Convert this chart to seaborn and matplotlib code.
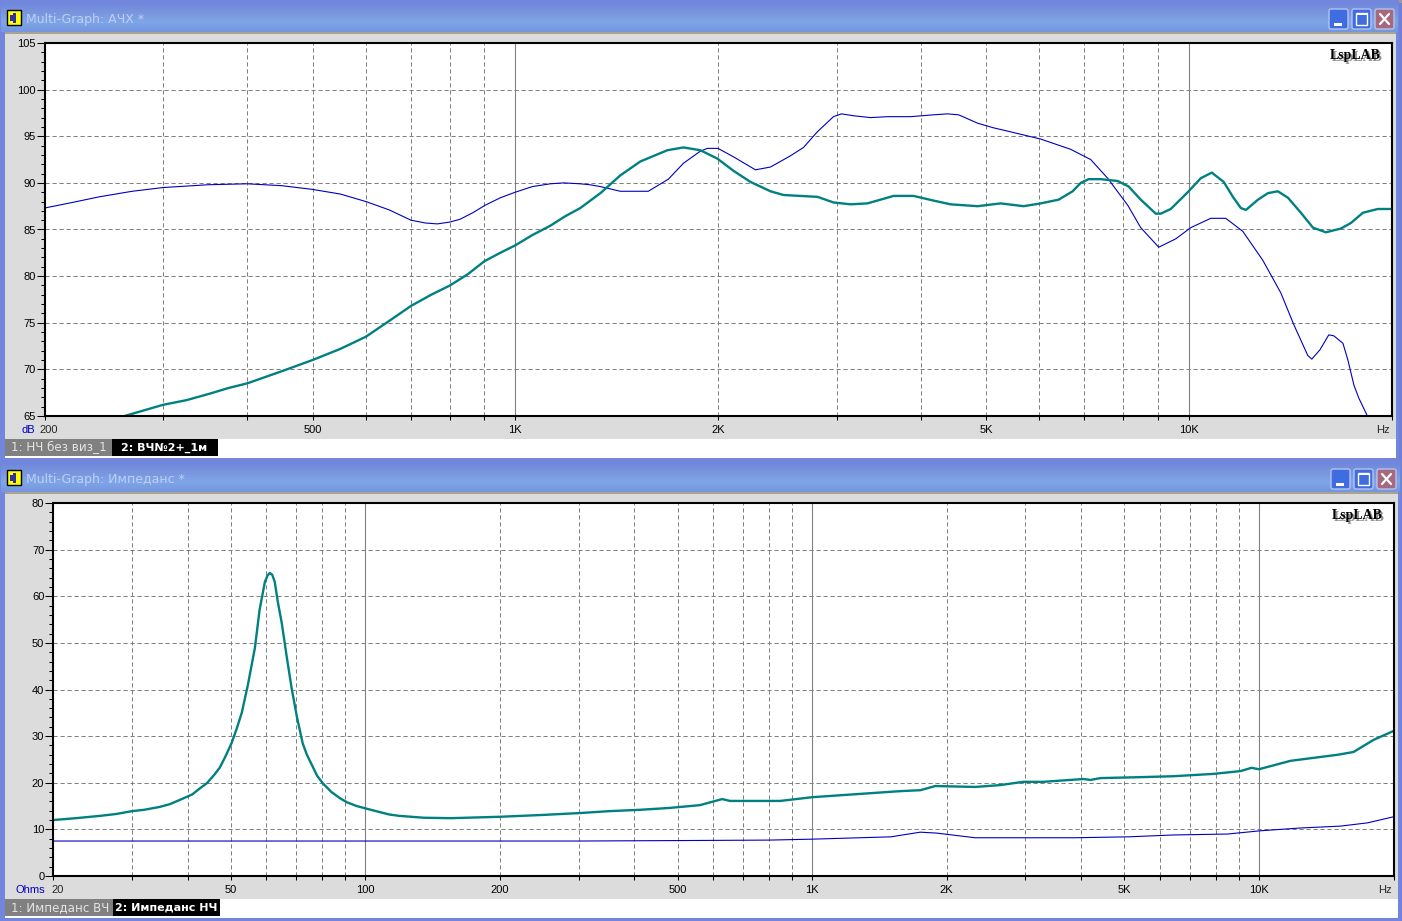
import numpy as np
import pandas as pd
import matplotlib
matplotlib.use("Agg")
import matplotlib.pyplot as plt
from matplotlib.patches import Rectangle, FancyBboxPatch
import seaborn as sns

# frequency response, window 1
fr_blue_hz = [200, 220, 241, 270, 300, 350, 400, 450, 500, 550, 600, 650, 700, 735, 766, 800, 828, 865, 902, 950,
              1000, 1060, 1127, 1180, 1249, 1290, 1338, 1432, 1576,
              1688, 1777, 1883, 1929, 2000, 2108, 2273, 2393, 2476, 2562, 2679, 2811, 2968, 3051,
              3178, 3369, 3571, 3863, 4179, 4384, 4552, 4859, 5132, 5347, 6027, 6678, 7152, 7578,
              8117, 8486, 9025, 9566, 10070, 10780, 11350, 12030, 12880, 13700, 14320, 15020,
              15230, 15660, 16140, 16420, 16940, 17230, 17590, 17890, 18390, 18800]
fr_blue_db = [87.3, 87.9, 88.5, 89.1, 89.5, 89.8, 89.9, 89.7, 89.3, 88.8, 88.0, 87.1, 86.0, 85.7, 85.6, 85.8, 86.1, 86.8, 87.6, 88.4,
              89.0, 89.6, 89.9, 90.0, 89.9, 89.8, 89.6, 89.1, 89.1,
              90.4, 92.1, 93.4, 93.7, 93.7, 92.8, 91.4, 91.7, 92.3, 92.9, 93.8, 95.5, 97.1, 97.4,
              97.2, 97.0, 97.1, 97.1, 97.3, 97.4, 97.3, 96.4, 95.9, 95.6, 94.7, 93.6, 92.5, 90.5,
              87.6, 85.2, 83.1, 84.0, 85.2, 86.2, 86.2, 84.8, 81.7, 78.2, 74.8, 71.5,
              71.1, 72.1, 73.7, 73.6, 72.8, 71.0, 68.3, 66.9, 65.1, 63.5]

fr_green_hz = [250, 263, 300, 325, 352, 375, 400, 450, 500, 550, 600, 650, 700, 750, 800, 850, 900, 950, 1000, 1060,
               1127, 1185, 1249, 1338, 1432, 1534,
               1682, 1777, 1883, 1996, 2108, 2235, 2393, 2502, 2811, 2968, 3146, 3334, 3645, 3904,
               4179, 4429, 4859, 5257, 5686, 6027, 6410, 6724, 6912, 7100, 7400, 7845, 8145, 8486,
               8933, 9087, 9404, 9966, 10420, 10820, 11270, 11630, 11950, 12160, 12670, 13110,
               13560, 14040, 14670, 15290, 15980, 16820, 17410, 18140, 19090, 20000]
fr_green_db = [64.6, 65.0, 66.2, 66.7, 67.4, 68.0, 68.5, 69.8, 71.0, 72.2, 73.5, 75.2, 76.8, 78.0, 79.0, 80.2, 81.6, 82.5, 83.3, 84.4,
               85.4, 86.4, 87.3, 88.9, 90.8, 92.3,
               93.5, 93.8, 93.5, 92.6, 91.3, 90.1, 89.1, 88.7, 88.5, 87.9, 87.7, 87.8, 88.6, 88.6,
               88.1, 87.7, 87.5, 87.8, 87.5, 87.8, 88.2, 89.1, 90.0, 90.4, 90.4, 90.2, 89.6, 88.2,
               86.7, 86.7, 87.2, 89.0, 90.5, 91.1, 90.1, 88.5, 87.3, 87.1, 88.2, 88.9,
               89.1, 88.4, 86.8, 85.2, 84.7, 85.1, 85.7, 86.8, 87.2, 87.2]

# impedance, window 2
z_green_hz = [20, 22.5, 25.5, 27.7, 30, 32, 34.6, 36.5, 38.4, 41, 42.5, 44.2, 46, 47.2, 48.5, 50.2, 51.5, 52.9, 54.6, 56.6,
              58.0, 59.6, 60.4, 61.1, 61.9, 62.7, 63.7,
              65.0, 66.7, 68.4, 70.3, 72.4, 74, 76.3, 78, 80.3, 84, 87.7, 91, 95.7, 101, 107.8, 113, 119, 135, 155, 200, 250, 302, 350, 412,
              480, 561, 629, 655, 848, 1000, 1574, 1746, 1886, 2317, 2636, 2969, 3292, 4045, 4195, 4416,
              5427, 6434, 7911, 9090, 9620, 10000, 11760, 14990, 16280, 18050, 20000]
z_green_ohm = [12.0, 12.4, 12.9, 13.3, 13.9, 14.2, 14.8, 15.4, 16.3, 17.5, 18.7, 19.9, 21.8, 23.2, 25.4, 28.5, 31.5, 35.0, 41.0, 48.9,
               57.1, 63.1, 64.4, 65.0, 64.6, 63.1, 58.8,
               54.3, 47.0, 40.3, 34.1, 28.5, 26.0, 23.4, 21.5, 19.9, 18.0, 16.7, 15.8, 15.0, 14.4, 13.7, 13.2, 12.9, 12.5, 12.4, 12.7, 13.1, 13.5, 13.9, 14.2,
               14.6, 15.2, 16.5, 16.1, 16.1, 16.9, 18.2, 18.4, 19.3, 19.1, 19.5, 20.2, 20.2, 20.8, 20.6, 21.0,
               21.2, 21.4, 21.9, 22.5, 23.2, 22.9, 24.7, 26.0, 26.6, 29.2, 31.1]

z_blue_hz = [20, 100, 300, 500, 800, 1000, 1500, 1746, 1900, 2317, 2636, 3840, 5100, 6434, 8500, 10080,
             12390, 15220, 17500, 20000]
z_blue_ohm = [7.5, 7.5, 7.5, 7.6, 7.7, 7.9, 8.4, 9.4, 9.2, 8.2, 8.2, 8.2, 8.4, 8.8, 9.0, 9.7,
              10.3, 10.7, 11.4, 12.7]

fr_x_ticks = [200, 300, 400, 500, 600, 700, 800, 900, 1000, 2000, 3000, 4000, 5000, 6000, 7000, 8000, 9000, 10000, 20000]
fr_x_labels = {500: "500", 1000: "1K", 2000: "2K", 5000: "5K", 10000: "10K"}
z_x_ticks = [20, 30, 40, 50, 60, 70, 80, 90, 100, 200, 300, 400, 500, 600, 700, 800, 900, 1000,
             2000, 3000, 4000, 5000, 6000, 7000, 8000, 9000, 10000, 20000]
z_x_labels = {50: "50", 100: "100", 200: "200", 500: "500", 1000: "1K", 2000: "2K", 5000: "5K", 10000: "10K"}

W, H = 1402, 921
TEAL = "#008080"
BLUE = "#0000c0"
GRID = "#808080"
TICK_FONT = "Liberation Sans"

sns.set_style("white")
fig = plt.figure(figsize=(W / 100, H / 100), dpi=100, facecolor="#6f7fd8")

# window chrome, in pixel coordinates
bg = fig.add_axes([0, 0, 1, 1], zorder=0)
bg.set_xlim(0, W)
bg.set_ylim(H, 0)
bg.axis("off")
grad = np.linspace(0, 1, 32).reshape(-1, 1)


def window(top, panel_bottom, title, tabs, right, btn_left):
    title_top = top
    title_bottom = top + 29
    bg.add_patch(Rectangle((0, title_top - 3), right + 3, panel_bottom - title_top + 8, color="#7186dc", lw=0))
    bg.imshow(grad, extent=(1, right + 2, title_bottom, title_top), aspect="auto", zorder=1,
              cmap=matplotlib.colors.LinearSegmentedColormap.from_list(
                  "t", ["#7088dc", "#7a96de", "#7fa6e8", "#7595de"]))
    bg.add_patch(Rectangle((5, title_bottom), right - 5, 2, color="#a8a490", lw=0, zorder=2))
    bg.add_patch(Rectangle((5, title_bottom + 2), right - 5, panel_bottom - title_bottom - 2, color="#dcdcdc", lw=0, zorder=2))
    # window icon
    bg.add_patch(Rectangle((7, top + 7), 14, 15, fc="#ffff00", ec="black", lw=1, zorder=3))
    bg.add_patch(Rectangle((10, top + 12), 3, 6, fc="#3030a0", lw=0, zorder=4))
    bg.add_patch(Rectangle((13, top + 10), 3, 10, fc="#3030a0", lw=0, zorder=4))
    bg.text(26, top + 16, title, fontsize=9, color="#bdd0f2", family="DejaVu Sans", va="center", zorder=4)
    # buttons
    for i, col in enumerate(["#3f6ce0", "#3f6ce0", "#a8687e"]):
        x0 = btn_left + i * 23
        bg.add_patch(FancyBboxPatch((x0, top + 6), 19, 20, boxstyle="round,pad=0,rounding_size=2",
                                    fc=col, ec="#b4c4ee", lw=1, zorder=3))
    x0 = btn_left
    bg.add_patch(Rectangle((x0 + 5, top + 20), 8, 3, color="white", lw=0, zorder=4))
    x0 = btn_left + 23
    bg.add_patch(Rectangle((x0 + 4, top + 10), 11, 12, fc="none", ec="white", lw=1, zorder=4))
    bg.add_patch(Rectangle((x0 + 4, top + 10), 11, 2, color="white", lw=0, zorder=4))
    x0 = btn_left + 46
    bg.plot([x0 + 5, x0 + 14], [top + 11, top + 21], color="white", lw=1.6, zorder=4)
    bg.plot([x0 + 14, x0 + 5], [top + 11, top + 21], color="white", lw=1.6, zorder=4)
    # legend strip
    y0 = panel_bottom - 19
    bg.add_patch(Rectangle((5, y0), right - 5, 19, color="white", lw=0, zorder=3))
    (t1, x1), (t2, x2) = tabs
    bg.add_patch(Rectangle((5, y0), x1 - 5, 17, color="#808080", lw=0, zorder=4))
    bg.add_patch(Rectangle((x1, y0), x2 - x1, 17, color="black", lw=0, zorder=4))
    bg.text(11, y0 + 8.5, t1, fontsize=8.6, color="#e4e4e4", family="DejaVu Sans", va="center", zorder=5)
    bg.text(x1 + 9 - 7 * (t2[3] == "И"), y0 + 8.5, t2, fontsize=8, color="white", family="DejaVu Sans",
            weight="bold", va="center", zorder=5)


bg.add_patch(Rectangle((0, 0), W, 3, color="#9a9a90", lw=0, zorder=1))
window(3, 458, "Multi-Graph: АЧХ *", [("1: НЧ без виз_1", 112), ("2: ВЧ№2+_1м", 218)], 1396, 1329)
window(463, 918, "Multi-Graph: Импеданс *", [("1: Импеданс ВЧ", 113), ("2: Импеданс НЧ", 220)], 1398, 1331)


def chart(left, right, top, bottom, xlim, ylim, xticks, xlabels, y_step, y_minor, first, first_dx, unit, unit_dx, curves):
    ax = fig.add_axes([left / W, 1 - bottom / H, (right - left) / W, (bottom - top) / H], zorder=5)
    ax.set_facecolor("white")
    for hz, val, col, lw in curves:
        df = pd.DataFrame({"hz": hz, "val": val})
        sns.lineplot(data=df, x="hz", y="val", ax=ax, color=col, linewidth=lw, estimator=None, sort=False, zorder=3)
    ax.set_xscale("log")
    ax.set_xlim(*xlim)
    ax.set_ylim(*ylim)
    ax.set_xlabel("")
    ax.set_ylabel("")
    ax.set_xticks(xticks)
    ax.set_xticklabels([xlabels.get(t, "") for t in xticks], family=TICK_FONT, fontsize=8)
    ax.minorticks_off()
    ax.set_yticks(np.arange(ylim[0], ylim[1] + 1, y_step))
    ax.set_yticks(np.arange(ylim[0], ylim[1] + 1, y_minor), minor=True)
    ax.set_yticklabels([str(v) for v in np.arange(ylim[0], ylim[1] + 1, y_step)], family=TICK_FONT, fontsize=8)
    ax.tick_params(axis="x", which="major", direction="out", length=3.2, width=0.75, color="black", pad=3.2, labelcolor="black", bottom=True)
    ax.tick_params(axis="y", which="major", direction="out", length=5.5, width=0.75, color="black", pad=0.8, labelcolor="black", left=True)
    ax.tick_params(axis="y", which="minor", direction="out", length=3, width=0.75, color="black", left=True)
    ax.grid(True, which="major", axis="both", color=GRID, linestyle=(0, (4.2, 2.8)), linewidth=0.72, zorder=1)
    ax.set_axisbelow(True)
    for d in [1000, 10000, 100] if xlim[0] < 100 else [1000, 10000]:
        ax.axvline(d, color=GRID, lw=0.8, zorder=1)
    for s in ax.spines.values():
        s.set_visible(True)
        s.set_color("black")
        s.set_linewidth(1.5)
        s.set_zorder(6)
    ax.annotate(first, (0, 0), xycoords="axes fraction", xytext=(first_dx, -14), textcoords="offset points",
                family=TICK_FONT, fontsize=8, ha="left", va="bottom", annotation_clip=False)
    ax.annotate(unit, (0, 0), xycoords="axes fraction", xytext=(unit_dx, -14), textcoords="offset points",
                family=TICK_FONT, fontsize=8, color="#0000c0", ha="right", va="bottom", annotation_clip=False)
    ax.annotate("Hz", (1, 0), xycoords="axes fraction", xytext=(-1, -14), textcoords="offset points",
                family=TICK_FONT, fontsize=8, ha="right", va="bottom", annotation_clip=False)
    # brand with drop shadow
    for dx, col, z in [(1.2, "#909090", 7), (0, "black", 8)]:
        ax.annotate("LspLAB", (1, 1), xycoords="axes fraction", xytext=(-7.7 + dx, -9.2 - dx), textcoords="offset points",
                    family="Liberation Serif", weight="bold", fontsize=10, color=col, ha="right", va="center", zorder=z)
    return ax


chart(44.5, 1391.5, 43, 416, (200, 20000), (65, 105), fr_x_ticks, fr_x_labels, 5, 1, "200", -3.6, "dB", -6.5,
      [(fr_blue_hz, fr_blue_db, BLUE, 0.8), (fr_green_hz, fr_green_db, TEAL, 1.7)])
chart(53, 1393.5, 503, 876, (20, 20000), (0, 80), z_x_ticks, z_x_labels, 10, 2, "20", -1.4, "Ohms", -5.8,
      [(z_blue_hz, z_blue_ohm, BLUE, 0.8), (z_green_hz, z_green_ohm, TEAL, 1.7)])

fig.savefig("out.png", dpi=100)
